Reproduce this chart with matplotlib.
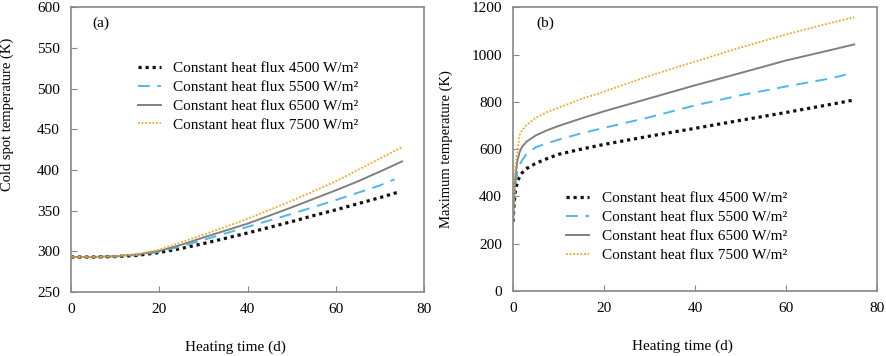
import numpy as np
import matplotlib
matplotlib.use("Agg")
import matplotlib.pyplot as plt

plt.rcParams['font.family'] = ['Liberation Serif', 'DejaVu Serif']
plt.rcParams['font.size'] = 11

labels = ["Constant heat flux 4500 W/m²", "Constant heat flux 5500 W/m²",
          "Constant heat flux 6500 W/m²", "Constant heat flux 7500 W/m²"]

# (a) cold spot temperature
t_a = [0, 5, 10, 15, 20, 25, 30, 35, 40, 45, 50, 55, 60, 65, 70, 75]
cold_4500 = [293, 293, 293.5, 295, 298.5, 303.5, 309.5, 316, 322.5, 329.5, 336.5, 344, 351, 358.5, 366, 373]
cold_5500 = [293, 293, 293.5, 295.5, 299.5, 306, 314, 322, 330, 338, 346, 354.5, 363, 372, 381, 388.5]
cold_6500 = [293, 293, 294, 296, 300.5, 308, 317, 325.5, 334, 344, 354, 364.5, 375, 386, 398, 410.5]
cold_7500 = [293, 293, 294, 296.5, 302, 311, 320.5, 330, 340, 351, 362, 374, 386, 400, 414, 428]
t_a_end = [74.3, 73.3, 75, 75]

# (b) maximum temperature
t_b = [0, 0.25, 0.5, 1, 1.5, 2, 3, 5, 7.5, 10, 15, 20, 30, 40, 50, 60, 70, 75]
max_4500 = [293, 370, 420, 465, 485, 500, 518, 540, 560, 578, 600, 620, 655, 688, 722, 755, 790, 808]
max_5500 = [293, 390, 450, 505, 535, 553, 580, 608, 625, 640, 667, 690, 735, 785, 828, 865, 900, 922]
max_6500 = [293, 410, 480, 555, 590, 610, 632, 658, 680, 698, 730, 760, 815, 870, 922, 975, 1020, 1043]
max_7500 = [293, 430, 520, 600, 662, 680, 702, 733, 757, 775, 812, 843, 910, 970, 1030, 1085, 1135, 1158]
t_b_end = [75, 74.5, 75, 75]

colors = ["#111111", "#4db8ea", "#808080", "#f5a623"]
styles = [dict(ls=(0, (1, 1.2)), lw=2.3), dict(ls=(0, (6, 4)), lw=1.4),
          dict(ls="-", lw=1.4), dict(ls=(0, (1, 1)), lw=1.3)]

fig = plt.figure(figsize=(8.86, 3.56), dpi=100)
ax1 = fig.add_axes([0.0801, 0.1798, 0.3985, 0.7997])
ax2 = fig.add_axes([0.579, 0.1826, 0.4108, 0.7969])


def clip_end(t, y, tend):
    t = np.array(t, dtype=float)
    y = np.array(y, dtype=float)
    if tend < t[-1]:
        t[-1] = tend
    return t, y


for i, ys in enumerate([cold_4500, cold_5500, cold_6500, cold_7500]):
    tt, yy = clip_end(t_a, ys, t_a_end[i])
    ax1.plot(tt, yy, color=colors[i], label=labels[i], **styles[i])

for i, ys in enumerate([max_4500, max_5500, max_6500, max_7500]):
    tt, yy = clip_end(t_b, ys, t_b_end[i])
    ax2.plot(tt, yy, color=colors[i], label=labels[i], **styles[i])

ax1.set_xlim(0, 80)
ax1.set_ylim(250, 600)
ax1.set_yticks(np.arange(250, 601, 50))
ax1.set_ylabel("Cold spot temperature (K)", fontsize=10.5)
ax1.yaxis.set_label_coords(-0.162, 0.625)
ax1.text(0.06, 0.93, "(a)", transform=ax1.transAxes)
ax1.legend(loc="upper left", bbox_to_anchor=(0.15, 0.858), frameon=False,
           handlelength=1.5, handletextpad=0.8, labelspacing=0.34)

ax2.set_xlim(0, 80)
ax2.set_ylim(0, 1200)
ax2.set_yticks(np.arange(0, 1201, 200))
ax2.set_ylabel("Maximum temperature (K)", fontsize=10.5)
ax2.yaxis.set_label_coords(-0.166, 0.5)
ax2.text(0.065, 0.93, "(b)", transform=ax2.transAxes)
ax2.legend(loc="upper left", bbox_to_anchor=(0.109, 0.399), frameon=False,
           handlelength=1.5, handletextpad=0.8, labelspacing=0.34)

for ax in (ax1, ax2):
    ax.set_xticks(np.arange(0, 81, 20))
    ax.set_xlabel("Heating time (d)")
    ax.xaxis.set_label_coords(0.465, -0.17)
    ax.tick_params(direction="in", length=4, color="#888888", pad=8)
    for s in ax.spines.values():
        s.set_color("#888888")
        s.set_linewidth(1.2)

fig.savefig("out.png", dpi=100)
